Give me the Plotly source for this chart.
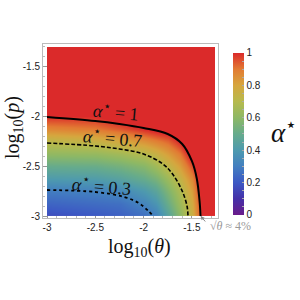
import plotly.graph_objects as go

# ---- data ----
log_theta = [-3.0, -2.5, -2.25, -2.0, -1.875, -1.75, -1.625, -1.5, -1.4, -1.26]
log_p = [-3.0, -2.875, -2.75, -2.625, -2.5, -2.375, -2.25, -2.125, -2.0, -1.31]
alpha_grid = [
    [0.17, 0.20, 0.22, 0.26, 0.31, 0.45, 0.60, 0.76, 1.00, 1.2],
    [0.23, 0.25, 0.26, 0.32, 0.38, 0.51, 0.64, 0.78, 1.02, 1.2],
    [0.295, 0.31, 0.33, 0.40, 0.46, 0.57, 0.68, 0.82, 1.05, 1.2],
    [0.40, 0.41, 0.44, 0.50, 0.55, 0.64, 0.74, 0.87, 1.08, 1.2],
    [0.50, 0.51, 0.54, 0.59, 0.65, 0.73, 0.82, 0.96, 1.10, 1.2],
    [0.61, 0.62, 0.65, 0.70, 0.75, 0.82, 0.90, 1.05, 1.15, 1.2],
    [0.72, 0.75, 0.79, 0.85, 0.89, 0.93, 1.01, 1.15, 1.20, 1.2],
    [0.87, 0.90, 0.94, 1.00, 1.03, 1.05, 1.10, 1.20, 1.20, 1.2],
    [1.00, 1.00, 1.05, 1.10, 1.15, 1.20, 1.20, 1.30, 1.30, 1.3],
    [1.30, 1.30, 1.30, 1.30, 1.30, 1.30, 1.30, 1.30, 1.30, 1.3],
]

c1_x = [-3.0, -2.5, -2.25, -2.0, -1.75, -1.6, -1.5, -1.45, -1.42, -1.41]
c1_y = [-2.01, -2.05, -2.08, -2.12, -2.18, -2.28, -2.45, -2.62, -2.85, -3.0]
c07_x = [-3.0, -2.5, -2.25, -2.0, -1.8, -1.7, -1.6, -1.55, -1.54]
c07_y = [-2.27, -2.30, -2.33, -2.38, -2.48, -2.58, -2.75, -2.90, -3.0]
c03_x = [-3.0, -2.5, -2.2, -2.05, -1.95, -1.9]
c03_y = [-2.74, -2.76, -2.81, -2.87, -2.95, -3.0]

contour_labels = ["<i>α</i><sup>⋆</sup> = 1", "<i>α</i><sup>⋆</sup> = 0.7", "<i>α</i><sup>⋆</sup> = 0.3"]
label_x = [-2.29, -2.32, -2.44]
label_y = [-1.96, -2.22, -2.70]

xticks = [-3, -2.5, -2, -1.5]
yticks = [-3, -2.5, -2, -1.5]
cbar_ticks = [0, 0.05, 0.1, 0.15, 0.2, 0.25, 0.3, 0.35, 0.4, 0.45, 0.5,
              0.55, 0.6, 0.65, 0.7, 0.75, 0.8, 0.85, 0.9, 0.95, 1]
cbar_labels = ["0", "", "", "", "0.2", "", "", "", "0.4", "", "",
               "", "0.6", "", "", "", "0.8", "", "", "", "1"]

rainbow = [
    [0.0, "#6A1B8A"], [0.1, "#4530A8"], [0.2, "#3C58C4"], [0.3, "#437FC0"],
    [0.4, "#4E9AAE"], [0.5, "#66AB8C"], [0.6, "#8DB865"], [0.7, "#B6BA4D"],
    [0.8, "#D6A63E"], [0.9, "#E27B33"], [1.0, "#DB2A2A"],
]

serif = "Liberation Serif"
sans = "Liberation Sans"

fig = go.Figure()
# empty trace so the framed (ticked) axes are drawn
fig.add_trace(go.Scatter(x=[], y=[], xaxis="x", yaxis="y", hoverinfo="skip"))

fig.add_trace(go.Heatmap(
    x=log_theta, y=log_p, z=alpha_grid, zsmooth="best",
    colorscale=rainbow, zmin=0, zmax=1, zauto=False,
    xaxis="x2", yaxis="y2",
    colorbar=dict(
        x=1.0857, xanchor="left", xpad=0, ypad=0, thickness=11, len=0.931,
        y=0.483, yanchor="middle",
        outlinewidth=0, tickvals=cbar_ticks, ticktext=cbar_labels,
        ticks="inside", ticklen=2, tickcolor="#aaa",
        tickfont=dict(family=sans, size=10, color="#222"),
    ),
    showscale=True, hoverinfo="skip",
))

fig.add_trace(go.Scatter(x=c1_x, y=c1_y, mode="lines", xaxis="x2", yaxis="y2",
                         line=dict(color="black", width=2, shape="spline"), hoverinfo="skip"))
fig.add_trace(go.Scatter(x=c07_x, y=c07_y, mode="lines", xaxis="x2", yaxis="y2",
                         line=dict(color="black", width=1.6, dash="4px,2px", shape="spline"), hoverinfo="skip"))
fig.add_trace(go.Scatter(x=c03_x, y=c03_y, mode="lines", xaxis="x2", yaxis="y2",
                         line=dict(color="black", width=1.8, dash="dot", shape="spline"), hoverinfo="skip"))

for t, lx, ly in zip(contour_labels, label_x, label_y):
    fig.add_annotation(xref="x2", yref="y2", x=lx, y=ly, text=t, showarrow=False, textangle=5,
                       xanchor="center", yanchor="middle",
                       font=dict(family=serif, size=18, color="#111"))

fig.add_annotation(xref="x2", yref="y2", x=c1_x[-1], y=c1_y[-1], ax=6, ay=7,
                   text="", showarrow=True, arrowhead=2, arrowsize=0.8, arrowwidth=1, arrowcolor="#888")
fig.add_annotation(xref="paper", yref="paper", x=0.943, y=-0.046, xanchor="left", yanchor="middle",
                   text="<i>√θ</i> ≈ 4%", showarrow=False,
                   font=dict(family=serif, size=12, color="#999"))

fig.add_annotation(xref="paper", yref="paper", x=0.554, y=-0.172, xanchor="center", yanchor="middle",
                   text="log<sub>10</sub>(<i>θ</i>)",
                   showarrow=False, font=dict(family=serif, size=20, color="#111"))
fig.add_annotation(xref="paper", yref="paper", x=-0.166, y=0.523, xanchor="center", yanchor="middle",
                   text="log<sub>10</sub>(<i>p</i>)",
                   textangle=-90, showarrow=False, font=dict(family=serif, size=20, color="#111"))
fig.add_annotation(xref="paper", yref="paper", x=1.291, y=0.50, xanchor="left", yanchor="middle",
                   text="<i>α</i><sup>⋆</sup>",
                   showarrow=False, font=dict(family=serif, size=27, color="#111"))

axis_common = dict(showgrid=False, zeroline=False, showline=True, linecolor="#bbb", linewidth=1,
                   mirror=True, ticks="inside", ticklen=4, tickcolor="#999",
                   tickfont=dict(family=sans, size=10, color="#222"))
fig.update_layout(
    xaxis=dict(range=[-3.042, -1.229], domain=[0, 1], tickvals=xticks,
               ticktext=["-3", "-2.5", "-2", "-1.5"],
               minor=dict(ticks="inside", ticklen=2, tickcolor="#bbb", dtick=0.1), **axis_common),
    yaxis=dict(range=[-3.02, -1.28], domain=[0, 1], tickvals=yticks,
               ticktext=["-3", "-2.5", "-2", "-1.5"],
               minor=dict(ticks="inside", ticklen=2, tickcolor="#bbb", dtick=0.1), **axis_common),
    xaxis2=dict(range=[-3.0, -1.26], domain=[0.0229, 0.983], anchor="y2", visible=False),
    yaxis2=dict(range=[-3.0, -1.31], domain=[0.0115, 0.983], anchor="x2", visible=False),
)

fig.update_layout(width=300, height=300, margin=dict(l=43, r=82, t=44, b=82),
                  paper_bgcolor="white", plot_bgcolor="white", showlegend=False)
fig.write_html("out.html")
